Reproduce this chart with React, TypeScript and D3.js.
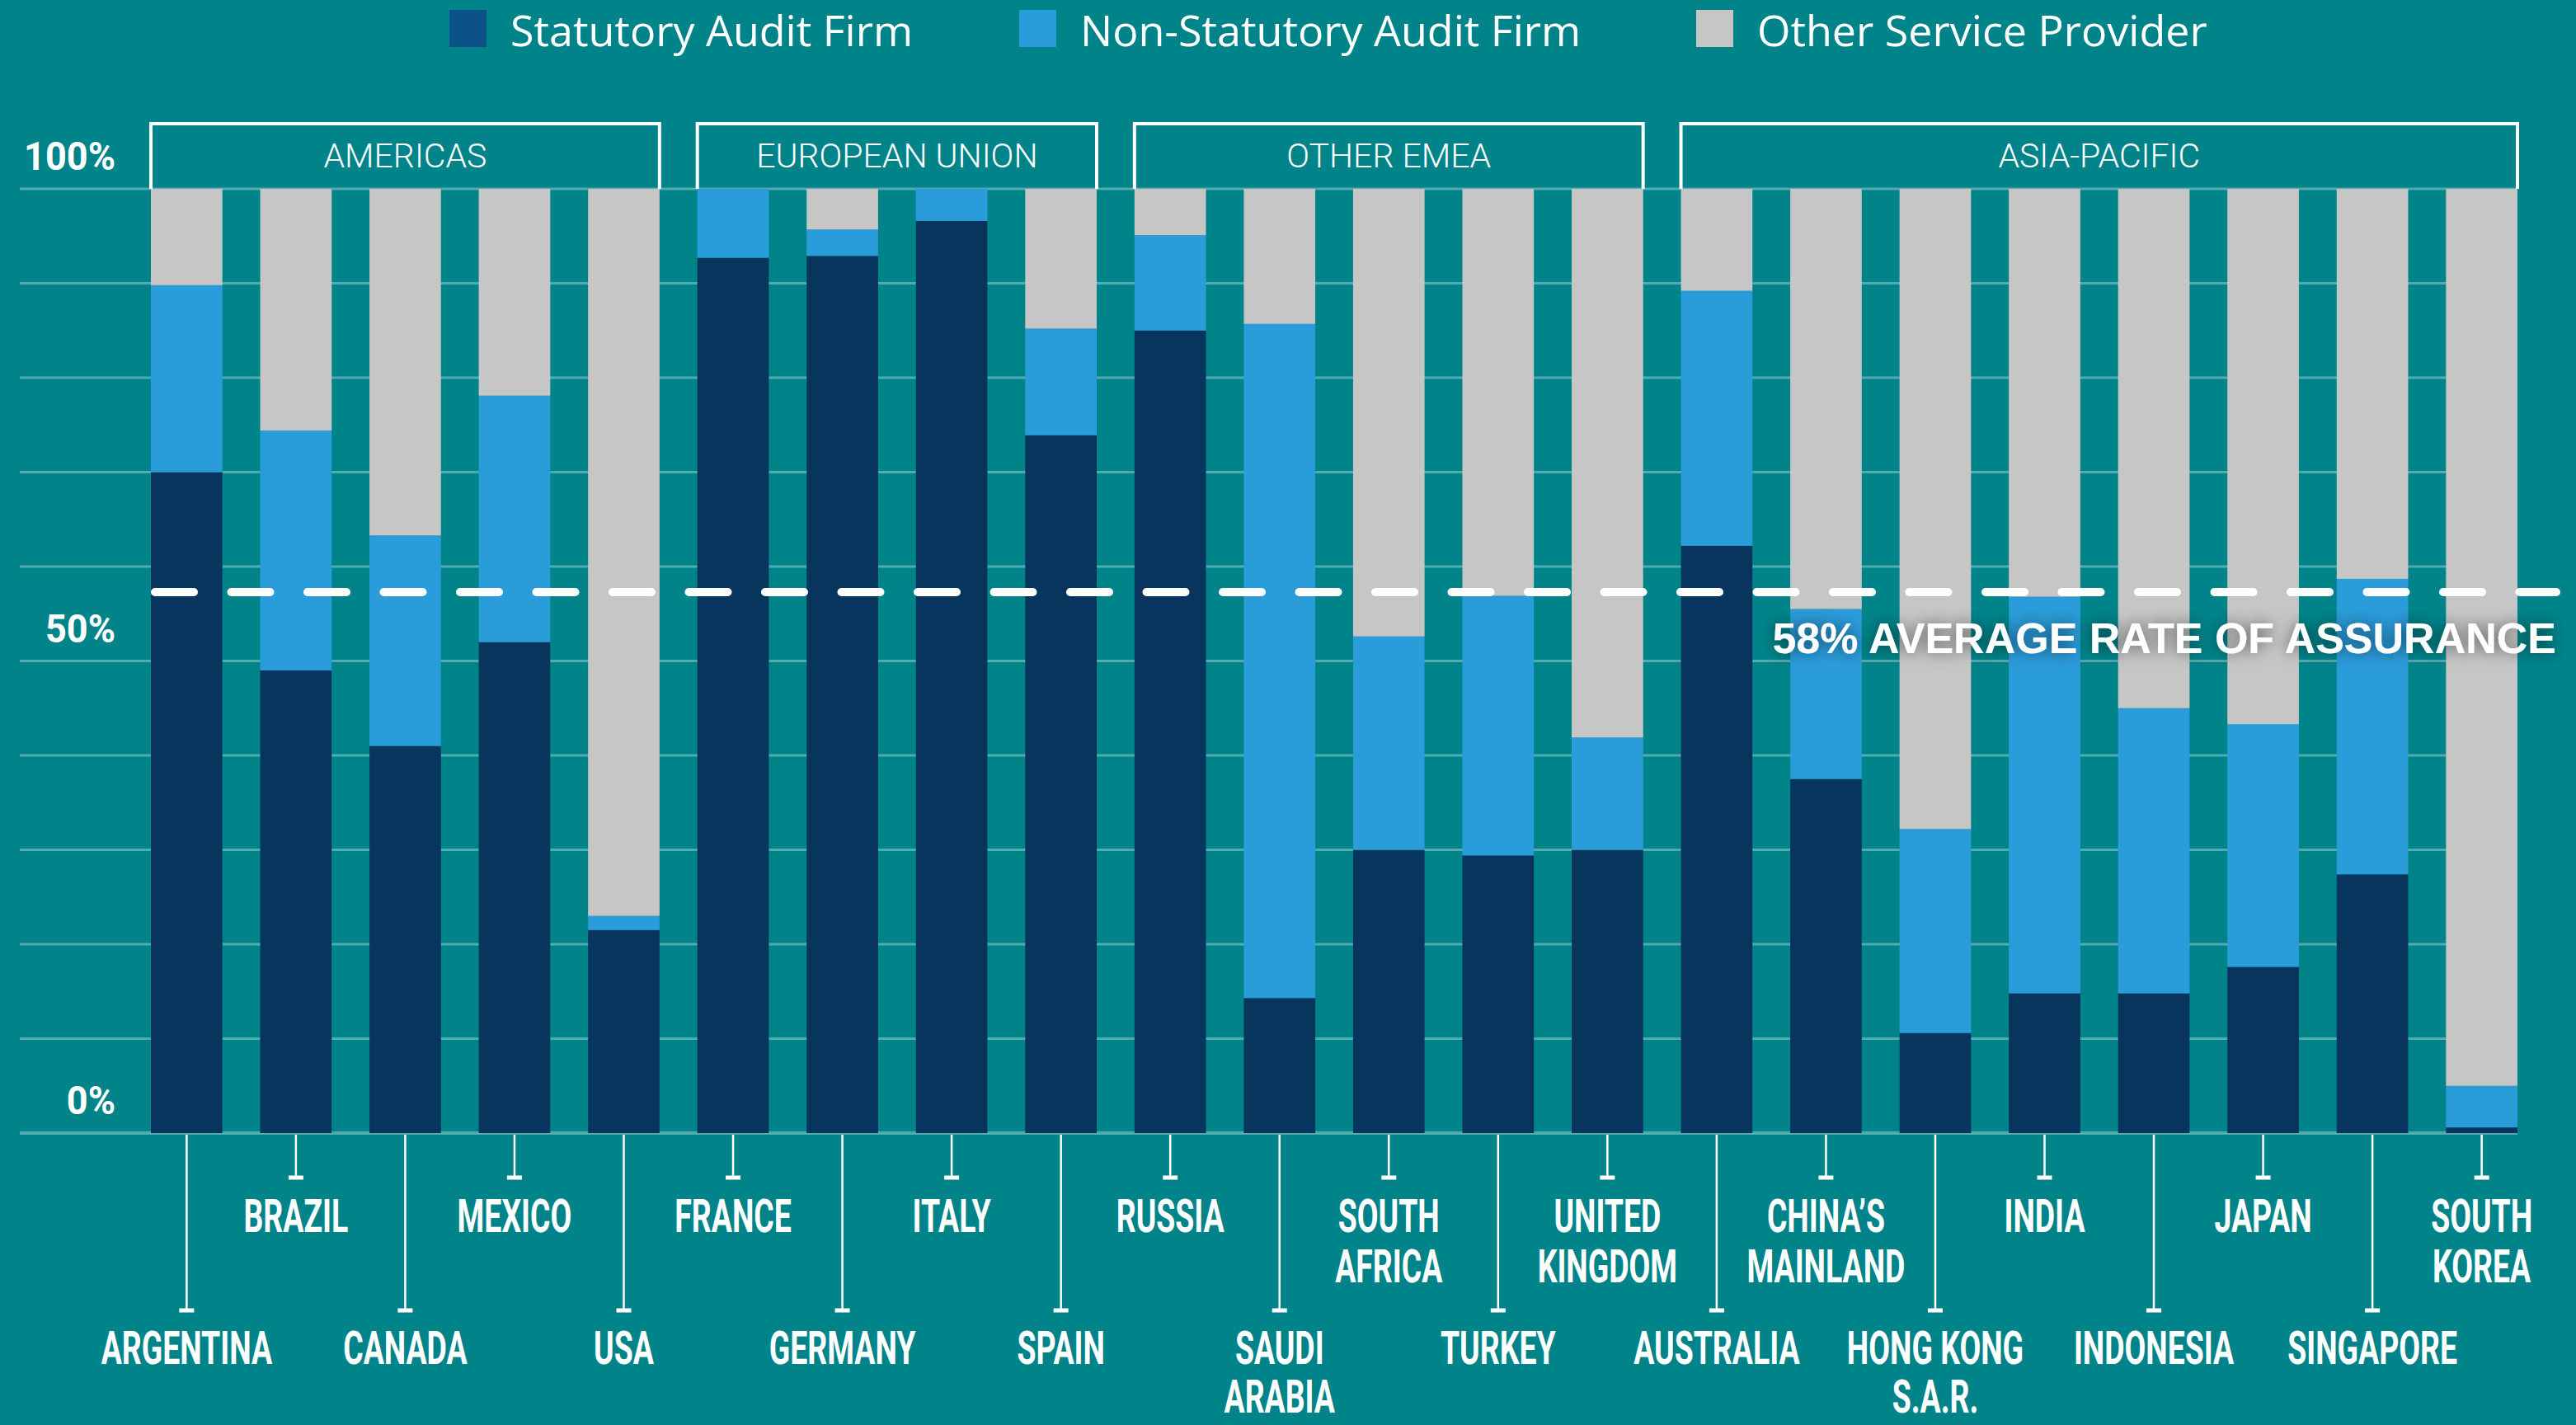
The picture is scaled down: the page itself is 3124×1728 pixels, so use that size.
import React from "react";
import * as d3 from "d3";

const countries = [
  "ARGENTINA", "BRAZIL", "CANADA", "MEXICO", "USA",
  "FRANCE", "GERMANY", "ITALY", "SPAIN",
  "RUSSIA", "SAUDI ARABIA", "SOUTH AFRICA", "TURKEY", "UNITED KINGDOM",
  "AUSTRALIA", "CHINA’S MAINLAND", "HONG KONG S.A.R.", "INDIA", "INDONESIA", "JAPAN", "SINGAPORE", "SOUTH KOREA",
];
const labelLines: string[][] = [
  ["ARGENTINA"], ["BRAZIL"], ["CANADA"], ["MEXICO"], ["USA"],
  ["FRANCE"], ["GERMANY"], ["ITALY"], ["SPAIN"],
  ["RUSSIA"], ["SAUDI", "ARABIA"], ["SOUTH", "AFRICA"], ["TURKEY"], ["UNITED", "KINGDOM"],
  ["AUSTRALIA"], ["CHINA’S", "MAINLAND"], ["HONG KONG", "S.A.R."], ["INDIA"], ["INDONESIA"], ["JAPAN"], ["SINGAPORE"], ["SOUTH", "KOREA"],
];
const statutory = [70, 49, 41, 52, 21.5, 92.7, 92.9, 96.6, 73.9, 85, 14.3, 30, 29.4, 30, 62.2, 37.5, 10.6, 14.8, 14.8, 17.6, 27.4, 0.6];
const nonStatutory = [19.8, 25.4, 22.3, 26.1, 1.5, 7.3, 2.8, 3.4, 11.3, 10.1, 71.4, 22.6, 27.5, 11.9, 27, 18, 21.6, 42, 30.2, 25.7, 31.3, 4.4];
const otherProvider = [10.2, 25.6, 36.7, 21.9, 77, 0, 4.3, 0, 14.8, 4.9, 14.3, 47.4, 43.1, 58.1, 10.8, 44.5, 67.8, 43.2, 55, 56.7, 41.3, 95];

const groupNames = ["AMERICAS", "EUROPEAN UNION", "OTHER EMEA", "ASIA-PACIFIC"];
const groupFirst = ["ARGENTINA", "FRANCE", "RUSSIA", "AUSTRALIA"];
const groupLast = ["USA", "SPAIN", "UNITED KINGDOM", "SOUTH KOREA"];

const seriesKeys = ["statutory", "nonStatutory", "other"];
const legendLabels = ["Statutory Audit Firm", "Non-Statutory Audit Firm", "Other Service Provider"];
const yTickLabels = [0, 50, 100];
const averageValue = 57.3;
const averageLabel = "58% AVERAGE RATE OF ASSURANCE";

const BG = "#00848a";
const barColors = ["#08355e", "#2b9cda", "#c6c6c6"];
const legendColors = ["#0c5289", "#2b9cda", "#c6c6c6"];

export default function App() {
  const W = 3124, H = 1728;
  const x = d3.scaleBand<string>().domain(countries).range([183, 3053]).paddingInner(0.346).paddingOuter(0);
  const y = d3.scaleLinear().domain([0, 100]).range([1374, 229]);

  const rows = countries.map((c, i) => ({
    country: c,
    statutory: statutory[i],
    nonStatutory: nonStatutory[i],
    other: otherProvider[i],
  }));
  const stacked = d3.stack<any>().keys(seriesKeys)(rows);
  const gridTicks = y.ticks(10);
  const bw = x.bandwidth();

  const legendX = [545, 1236, 2057];

  return (
    <svg width={W} height={H} style={{ position: "absolute", left: 0, top: 0, display: "block" }}>
      <defs>
        <filter id="shadow" x="-10%" y="-50%" width="120%" height="200%">
          <feDropShadow dx="0" dy="0" stdDeviation="9" floodColor="#000" floodOpacity="0.55" />
        </filter>
      </defs>
      <rect x={0} y={0} width={W} height={H} fill={BG} />

      {/* legend */}
      {legendLabels.map((l, i) => (
        <g key={l}>
          <rect x={legendX[i]} y={12} width={45} height={45} fill={legendColors[i]} />
          <text x={legendX[i] + 74} y={56} fill="#fff" fontFamily="Open Sans" fontSize={52}>{l}</text>
        </g>
      ))}

      {/* gridlines */}
      {gridTicks.map((t) => (
        <line key={t} x1={24} x2={3053} y1={y(t)} y2={y(t)} stroke="rgba(255,255,255,0.32)" strokeWidth={t === 0 ? 4 : 3} />
      ))}

      {/* y labels */}
      {yTickLabels.map((t) => (
        <text key={t} transform={`translate(140,${y(t) - 23}) scale(0.92,1)`} textAnchor="end" fill="#fff"
          fontFamily="Roboto" fontWeight={700} fontSize={49}>{t}%</text>
      ))}

      {/* group boxes */}
      {groupNames.map((g, i) => {
        const x0 = x(groupFirst[i])!;
        const x1 = x(groupLast[i])! + bw;
        return (
          <g key={g}>
            <path d={`M${x0},${y(100)} V150 H${x1} V${y(100)}`} fill="none" stroke="#fff" strokeWidth={4} />
            <text x={(x0 + x1) / 2} y={203} textAnchor="middle" fill="#fff" fontFamily="Roboto" fontWeight={300} fontSize={41}>{g}</text>
          </g>
        );
      })}

      {/* bars */}
      {stacked.map((s, si) => (
        <g key={s.key} fill={barColors[si]}>
          {s.map((d, i) => (
            <rect key={i} x={x(countries[i])} y={y(d[1])} width={bw} height={Math.max(0, y(d[0]) - y(d[1]))} />
          ))}
        </g>
      ))}

      {/* average line */}
      <line x1={188} x2={3100} y1={y(averageValue)} y2={y(averageValue)} stroke="#fff" strokeWidth={10}
        strokeLinecap="round" strokeDasharray="47 45.5" />
      <text x={3100} y={792} textAnchor="end" fill="#fff" fontFamily="Liberation Sans" fontWeight={700} fontSize={52}
        filter="url(#shadow)">{averageLabel}</text>

      {/* category labels */}
      {countries.map((c, i) => {
        const cx = x(c)! + bw / 2;
        const low = i % 2 === 0;
        const endY = low ? 1589 : 1428;
        const base = low ? 1654 : 1494;
        const gap = low ? 59 : 61;
        return (
          <g key={c}>
            <line x1={cx} x2={cx} y1={1376} y2={endY} stroke="#fff" strokeWidth={2.5} />
            <rect x={cx - 9} y={endY - 2.5} width={18} height={5} fill="#fff" />
            <text transform={`translate(${cx},${base}) scale(0.68,1)`} textAnchor="middle"
              fill="#fff" fontFamily="Roboto" fontWeight={700} fontSize={55}>
              {labelLines[i].map((ln, j) => (
                <tspan key={j} x={0} dy={j === 0 ? 0 : gap}>{ln}</tspan>
              ))}
            </text>
          </g>
        );
      })}
    </svg>
  );
}
